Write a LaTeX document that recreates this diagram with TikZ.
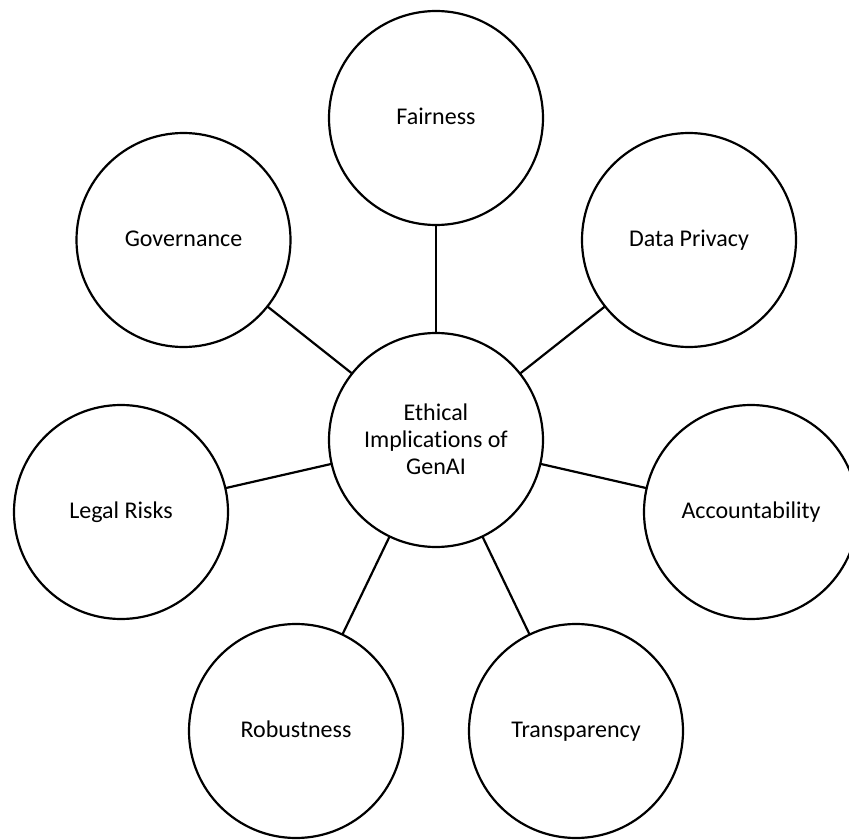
\documentclass[tikz,border=0pt]{standalone}
\usepackage{fontspec}
\setmainfont{Carlito}[Ligatures={NoCommon,NoContextual}]
\begin{document}
\begin{tikzpicture}[x=1pt,y=-1pt,
  topic/.style={circle,draw=black,line width=2.2pt,minimum size=214pt,inner sep=0pt,outer sep=0pt,align=center,
    font=\fontsize{24}{27}\selectfont},
  single/.style={topic,text height=19pt,text depth=6pt},
  link/.style={draw=black,line width=2.2pt}]
\useasboundingbox (0,0) rectangle (849,840);
\node[topic] (c) at (436,440) {\begin{tabular}{@{}c@{}}\rule{0pt}{24pt}Ethical\\Implications of\\GenAI\end{tabular}};
\node[single] (fair) at (436,118) {Fairness};
\node[single] (priv) at (689,240) {Data Privacy};
\node[single] (acc) at (751,512) {Accountability};
\node[single] (trans) at (576,731) {Transparency};
\node[single] (rob) at (296,731) {Robustness};
\node[single] (legal) at (121,512) {Legal Risks};
\node[single] (gov) at (183.5,240) {Governance};
\foreach \n in {fair,priv,acc,trans,rob,legal,gov}
  \draw[link] (c) -- (\n);
\end{tikzpicture}
\end{document}
